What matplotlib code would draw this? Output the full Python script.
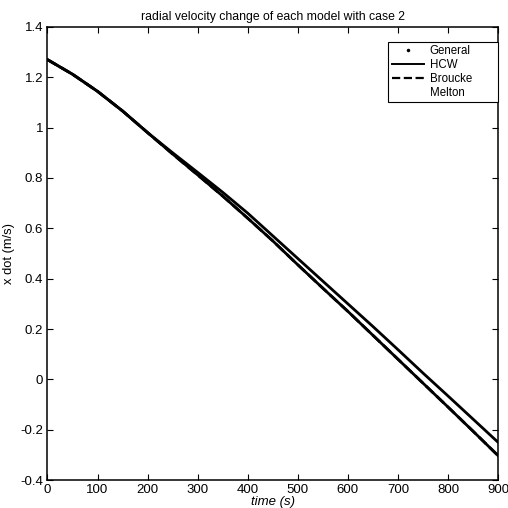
import matplotlib
matplotlib.use("Agg")
import matplotlib.pyplot as plt
from matplotlib.lines import Line2D

# time samples (s)
time_s = [0, 50, 100, 150, 200, 250, 300, 350, 400, 450,
          500, 550, 600, 650, 700, 750, 800, 850, 900]

# x dot (m/s)
hcw = [1.27, 1.212, 1.144, 1.066, 0.98, 0.90, 0.822, 0.743, 0.66, 0.57,
       0.48, 0.39, 0.30, 0.21, 0.118, 0.025, -0.066, -0.158, -0.25]
general = [1.27, 1.212, 1.144, 1.066, 0.98, 0.895, 0.812, 0.728, 0.64, 0.55,
           0.455, 0.362, 0.27, 0.175, 0.08, -0.015, -0.11, -0.206, -0.303]
broucke = general
melton = general

plt.rcParams['font.family'] = ['Liberation Sans', 'DejaVu Sans']
plt.rcParams['font.size'] = 9

fig = plt.figure(figsize=(5.08, 5.08), dpi=100)
ax = fig.add_axes([0.0935, 0.055, 0.887, 0.892])

lw = 2.0
# General was drawn as dense dots, which print as a solid trace
ax.plot(time_s, general, color='black', linestyle='-', linewidth=lw)
ax.plot(time_s, hcw, color='black', linestyle='-', linewidth=lw)
ax.plot(time_s, broucke, color='black', linestyle='--', linewidth=lw)
# Melton in a pale colour that vanished from the print
ax.plot(time_s, melton, color='#f2f2f2', linestyle='-', linewidth=0.5, zorder=0)

handles = [
    Line2D([], [], color='black', marker='.', markersize=3, linestyle='none'),
    Line2D([], [], color='black', linestyle='-', linewidth=1.4),
    Line2D([], [], color='black', linestyle='--', linewidth=1.6),
    Line2D([], [], color='white', linestyle='-', linewidth=1.0),
]
labels = ['General', 'HCW', 'Broucke', 'Melton']

ax.set_xlim(0, 900)
ax.set_ylim(-0.4, 1.4)
ax.set_xticks(range(0, 901, 100))
ax.set_yticks([-0.4, -0.2, 0, 0.2, 0.4, 0.6, 0.8, 1, 1.2, 1.4])
ax.set_yticklabels(['-0.4', '-0.2', '0', '0.2', '0.4', '0.6', '0.8', '1', '1.2', '1.4'])
ax.tick_params(direction='in', top=True, right=True, length=4, width=0.8, pad=3,
               labelsize=9.5)
for s in ax.spines.values():
    s.set_linewidth(1.1)

ax.set_title('radial velocity change of each model with case 2', fontsize=8.8, pad=5)
ax.set_xlabel('time (s)', style='italic', fontsize=9.5, labelpad=0)
ax.set_ylabel('x dot (m/s)', fontsize=9.3, labelpad=4)

leg = ax.legend(handles, labels, loc='upper left',
                bbox_to_anchor=(0.756, 0.5, 0.243, 0.467),
                mode='expand', fancybox=False, edgecolor='black', framealpha=1,
                handlelength=2.8, borderaxespad=0, labelspacing=0.15,
                borderpad=0.3, handletextpad=0.5, fontsize=8.3)
leg.get_frame().set_linewidth(0.8)

fig.savefig('out.png', dpi=100)
